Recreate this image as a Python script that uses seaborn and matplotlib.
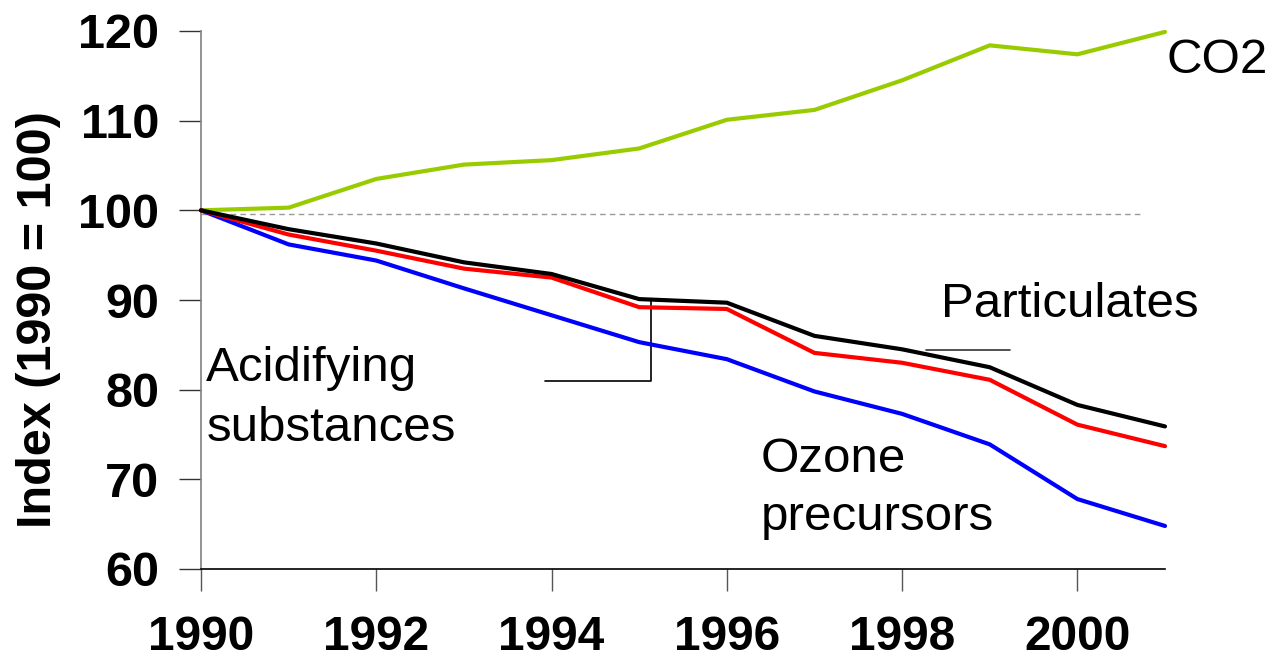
import numpy as np
import pandas as pd
import matplotlib
matplotlib.use("Agg")
import matplotlib.pyplot as plt
import seaborn as sns

years = list(range(1990, 2002))
co2 = [100, 100.3, 103.5, 105.1, 105.6, 106.9, 110.1, 111.2, 114.5, 118.4, 117.4, 119.9]
particulates = [100, 97.9, 96.3, 94.2, 92.9, 90.1, 89.7, 86.0, 84.5, 82.5, 78.3, 75.9]
acidifying = [100, 97.3, 95.5, 93.5, 92.5, 89.2, 89.0, 84.1, 83.0, 81.1, 76.1, 73.7]
ozone = [100, 96.2, 94.4, 91.3, 88.3, 85.3, 83.4, 79.8, 77.3, 73.9, 67.8, 64.8]

series_names = ["CO2", "Ozone precursors", "Acidifying substances", "Particulates"]
series_values = [co2, ozone, acidifying, particulates]
colors = {"CO2": "#99cc00", "Ozone precursors": "#0000ff",
          "Acidifying substances": "#ff0000", "Particulates": "#000000"}

yticks = [60, 70, 80, 90, 100, 110, 120]
xticks = [1990, 1992, 1994, 1996, 1998, 2000]

rows = []
for name, vals in zip(series_names, series_values):
    for y, v in zip(years, vals):
        rows.append({"year": y, "value": v, "series": name})
df = pd.DataFrame(rows)

sns.set_style("white")
plt.rcParams["font.family"] = ["Liberation Sans", "DejaVu Sans"]
plt.rcParams["text.color"] = "black"
plt.rcParams["axes.labelcolor"] = "black"
plt.rcParams["xtick.color"] = "black"
plt.rcParams["ytick.color"] = "black"

fig = plt.figure(figsize=(12.74, 6.62), dpi=100)
ax = fig.add_axes([201 / 1274, 1 - 569 / 662, (1165 - 201) / 1274, (569 - 31) / 662])

# reference dashed line at 100
ax.plot([1990, 2000.75], [99.6, 99.6], color="#999999", lw=1.0, ls=(0, (4, 3)), zorder=1)

sns.lineplot(data=df, x="year", y="value", hue="series", palette=colors,
             hue_order=series_names, linewidth=3.0, legend=False, ax=ax, zorder=3)
for ln in ax.lines:
    ln.set_clip_on(False)

ax.set_xlim(1990, 2001)
ax.set_ylim(60, 120)
ax.set_xticks(xticks)
ax.set_yticks(yticks)
ax.set_xticklabels([str(t) for t in xticks], fontsize=34.5, fontweight="bold")
ax.set_yticklabels([str(t) for t in yticks], fontsize=35, fontweight="bold")
ax.tick_params(axis="x", direction="out", length=16, width=1, color="#555555",
               labelcolor="black", pad=17, bottom=True)
ax.tick_params(axis="y", direction="out", length=16, width=1, color="#333333",
               labelcolor="black", pad=14, left=True)
ax.set_xlabel("")
ax.set_ylabel("Index (1990 = 100)", fontsize=35, fontweight="bold", color="black")
ax.yaxis.set_label_coords(-0.145, 0.463)

for s in ["top", "right"]:
    ax.spines[s].set_visible(False)
ax.spines["left"].set_color("#808080")
ax.spines["left"].set_linewidth(1.2)
ax.spines["bottom"].set_color("#000000")
ax.spines["bottom"].set_linewidth(1.2)
ax.grid(False)

fs = 35.5
ax.text(2001.02, 115.3, "CO2", fontsize=fs, va="baseline", ha="left", color="black")
ax.text(1998.44, 88.06, "Particulates", fontsize=fs, va="baseline", ha="left", color="black")
ax.plot([1998.27, 1999.23], [84.4, 84.4], color="#333333", lw=1.2, zorder=2)
ax.text(1990.06, 81.0, "Acidifying", fontsize=fs, va="baseline", ha="left", color="black")
ax.text(1990.06, 74.3, "substances", fontsize=fs, va="baseline", ha="left", color="black")
ax.plot([1993.93, 1995.14, 1995.14], [80.93, 80.93, 90.0], color="#000000", lw=1.2, zorder=2)
ax.text(1996.39, 70.78, "Ozone", fontsize=fs, va="baseline", ha="left", color="black")
ax.text(1996.39, 64.3, "precursors", fontsize=fs, va="baseline", ha="left", color="black")

fig.savefig("out.png", dpi=100)
